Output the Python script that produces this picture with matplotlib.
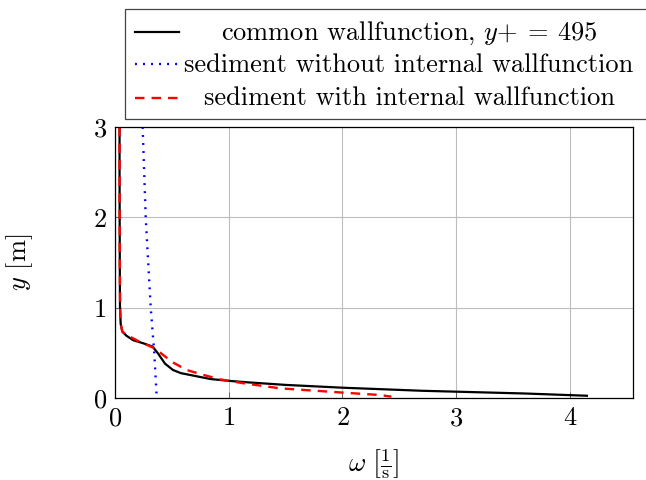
import matplotlib
matplotlib.use("Agg")
import matplotlib.pyplot as plt
from matplotlib.lines import Line2D
from matplotlib.patches import Rectangle

plt.rcParams['font.family'] = 'serif'
plt.rcParams['font.serif'] = ['cmr10']
plt.rcParams['mathtext.fontset'] = 'cm'
plt.rcParams['axes.formatter.use_mathtext'] = True
plt.rcParams['font.size'] = 19

# omega profiles over the height y
y_common = [3.0, 2.5, 2.0, 1.5, 1.0, 0.82, 0.735, 0.69, 0.64, 0.605, 0.57, 0.49,
            0.38, 0.31, 0.275, 0.255, 0.21, 0.19, 0.174, 0.145, 0.114, 0.08,
            0.07, 0.05, 0.025]
w_common = [0.04, 0.04, 0.041, 0.042, 0.044, 0.05, 0.064, 0.10, 0.16, 0.25, 0.33,
            0.38, 0.44, 0.51, 0.58, 0.66, 0.84, 1.0, 1.16, 1.5, 2.0, 2.7,
            3.0, 3.6, 4.15]

y_no_wf = [3.0, 2.0, 1.0, 0.5, 0.0]
w_no_wf = [0.243, 0.27, 0.314, 0.345, 0.367]

y_wf = [3.0, 2.0, 1.5, 1.0, 0.82, 0.735, 0.70, 0.62, 0.55, 0.40, 0.31, 0.255,
        0.207, 0.163, 0.107, 0.06, 0.033, 0.015]
w_wf = [0.04, 0.041, 0.042, 0.045, 0.05, 0.065, 0.10, 0.22, 0.35, 0.50, 0.63,
        0.78, 0.92, 1.13, 1.45, 2.0, 2.33, 2.43]

labels = [r'common wallfunction, $y{+}\:=\:495$',
          'sediment without internal wallfunction',
          'sediment with internal wallfunction']

W, H = 646, 480
fig = plt.figure(figsize=(W / 100, H / 100), dpi=100)
ax = fig.add_axes([115 / W, 1 - 398 / H, (633 - 115) / W, (398 - 127) / H])

solid = dict(color='black', lw=1.6)
dotted = dict(color='blue', lw=1.7, linestyle=(0, (0.8, 2.6)))
dashed = dict(color='red', lw=1.7, linestyle=(0, (4, 3)))

ax.plot(w_common, y_common, **solid)
ax.plot(w_no_wf, y_no_wf, **dotted)
ax.plot(w_wf, y_wf, **dashed)

ax.set_xlim(0, 4.555)
ax.set_ylim(0, 3)
ax.set_xticks([0, 1, 2, 3, 4])
ax.set_yticks([0, 1, 2, 3])
ax.grid(True, color='#bdbdbd', lw=0.8)
ax.set_axisbelow(True)
ax.tick_params(direction='in', length=4, width=0.6, color='#555555', pad=6)
for s in ax.spines.values():
    s.set_linewidth(0.9)

ax.set_xlabel(r'$\omega\ \left[\frac{1}{\mathrm{s}}\right]$')
ax.xaxis.set_label_coords(0.5, -0.185)
ax.set_ylabel(r'$y$ [m]')
ax.yaxis.set_label_coords(-0.154, 0.5)

# legend box above the axes, entries centred like pgfplots
def px(x, y):
    return x / W, 1 - y / H

x0, y0 = px(125, 119)
x1, y1 = px(660, 9)
fig.add_artist(Rectangle((x0, y0), x1 - x0, y1 - y0, transform=fig.transFigure,
                         facecolor='white', edgecolor='#444444', lw=0.9, zorder=5))
rows_line = [31.5, 63.5, 97.5]
rows_text = [39.5, 72, 105]
for st, yl, yt, lab in zip([solid, dotted, dashed], rows_line, rows_text, labels):
    xa, ya = px(135, yl)
    xb, _ = px(179, yl)
    fig.add_artist(Line2D([xa, xb], [ya, ya], transform=fig.transFigure, zorder=6, **st))
    xt, ytt = px(409, yt)
    fig.text(xt, ytt, lab, ha='center', va='baseline', zorder=6)

fig.savefig('out.png', dpi=100)
